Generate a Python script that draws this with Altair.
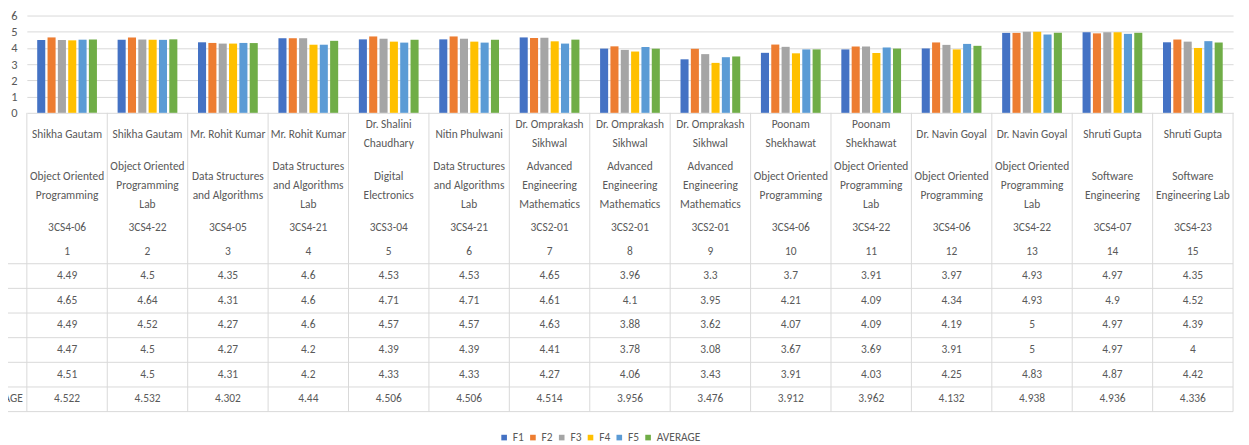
import altair as alt
import pandas as pd

# ---------------- data ----------------
numbers = ["1", "2", "3", "4", "5", "6", "7", "8", "9", "10", "11", "12", "13", "14", "15"]
teachers = [
    "Shikha Gautam", "Shikha Gautam", "Mr. Rohit Kumar", "Mr. Rohit Kumar",
    "Dr. Shalini\nChaudhary", "Nitin Phulwani", "Dr. Omprakash\nSikhwal",
    "Dr. Omprakash\nSikhwal", "Dr. Omprakash\nSikhwal", "Poonam\nShekhawat",
    "Poonam\nShekhawat", "Dr. Navin Goyal", "Dr. Navin Goyal", "Shruti Gupta", "Shruti Gupta",
]
subjects = [
    "Object Oriented\nProgramming", "Object Oriented\nProgramming\nLab",
    "Data Structures\nand Algorithms", "Data Structures\nand Algorithms\nLab",
    "Digital\nElectronics", "Data Structures\nand Algorithms\nLab",
    "Advanced\nEngineering\nMathematics", "Advanced\nEngineering\nMathematics",
    "Advanced\nEngineering\nMathematics", "Object Oriented\nProgramming",
    "Object Oriented\nProgramming\nLab", "Object Oriented\nProgramming",
    "Object Oriented\nProgramming\nLab", "Software\nEngineering", "Software\nEngineering Lab",
]
codes = ["3CS4-06", "3CS4-22", "3CS4-05", "3CS4-21", "3CS3-04", "3CS4-21", "3CS2-01", "3CS2-01",
         "3CS2-01", "3CS4-06", "3CS4-22", "3CS4-06", "3CS4-22", "3CS4-07", "3CS4-23"]

series = ["F1", "F2", "F3", "F4", "F5", "AVERAGE"]
f1 = [4.49, 4.5, 4.35, 4.6, 4.53, 4.53, 4.65, 3.96, 3.3, 3.7, 3.91, 3.97, 4.93, 4.97, 4.35]
f2 = [4.65, 4.64, 4.31, 4.6, 4.71, 4.71, 4.61, 4.1, 3.95, 4.21, 4.09, 4.34, 4.93, 4.9, 4.52]
f3 = [4.49, 4.52, 4.27, 4.6, 4.57, 4.57, 4.63, 3.88, 3.62, 4.07, 4.09, 4.19, 5, 4.97, 4.39]
f4 = [4.47, 4.5, 4.27, 4.2, 4.39, 4.39, 4.41, 3.78, 3.08, 3.67, 3.69, 3.91, 5, 4.97, 4]
f5 = [4.51, 4.5, 4.31, 4.2, 4.33, 4.33, 4.27, 4.06, 3.43, 3.91, 4.03, 4.25, 4.83, 4.87, 4.42]
average = [4.522, 4.532, 4.302, 4.44, 4.506, 4.506, 4.514, 3.956, 3.476, 3.912, 3.962, 4.132,
           4.938, 4.936, 4.336]
colors = ["#4472C4", "#ED7D31", "#A5A5A5", "#FFC000", "#5B9BD5", "#70AD47"]

# ---------------- layout constants ----------------
FONT = "Carlito, Lato, sans-serif"
FS = 11.5
TXT = "#595959"
GRID = "#d9d9d9"
W, H = 1215, 399
BAR_H = 98                # pixel height of bar area
TABLE_H = H - BAR_H       # 301
LINE_H = 19
NAME_C, SUBJ_C, CODE_C, NUM_C = 22, 74, 116, 140
ROW0, ROW_H = 152, 24.83

# ---------------- tables ----------------
all_vals = [f1, f2, f3, f4, f5, average]
bar_rows, cell_rows = [], []
for s_i, (s, vals) in enumerate(zip(series, all_vals)):
    for c, v in zip(numbers, vals):
        bar_rows.append({"cat": c, "series": s, "value": v})
        cell_rows.append({"cat": c, "text": f"{v:g}", "ty": ROW0 + ROW_H * s_i + ROW_H / 2})
bars_df = pd.DataFrame(bar_rows)
cells_df = pd.DataFrame(cell_rows)

head_rows = []
for c, t, sub, code in zip(numbers, teachers, subjects, codes):
    for block, center in ((t, NAME_C), (sub, SUBJ_C)):
        lines = block.split("\n")
        n = len(lines)
        for k, ln in enumerate(lines):
            head_rows.append({"cat": c, "text": ln, "ty": center + (k - (n - 1) / 2) * LINE_H})
    head_rows.append({"cat": c, "text": code, "ty": CODE_C})
    head_rows.append({"cat": c, "text": c, "ty": NUM_C})
head_df = pd.DataFrame(head_rows)

# row-label column of the data table: it lies left of the visible area, only the
# end of the widest label ("AVERAGE") shows in the picture
rowlab_df = pd.DataFrame({"text": series[-1:], "ty": [ROW0 + ROW_H * 5 + ROW_H / 2]})
hline_df = pd.DataFrame({"ty": [ROW0 + ROW_H * i for i in range(7)]})
vline_df = pd.DataFrame({"cat": numbers, "y0": 0, "y1": TABLE_H})
vlast_df = pd.DataFrame({"cat": [numbers[-1]], "y0": [0], "y1": [TABLE_H]})

xscale = alt.Scale(domain=numbers, paddingInner=0, paddingOuter=0)
tscale = alt.Scale(domain=[0, TABLE_H], range=[BAR_H, H])

bars = alt.Chart(bars_df).mark_bar().encode(
    x=alt.X("cat:N", scale=xscale, axis=None, sort=numbers),
    xOffset=alt.XOffset("series:N", scale=alt.Scale(domain=series, paddingInner=0.22, paddingOuter=1.0)),
    y=alt.Y("value:Q", scale=alt.Scale(domain=[0, 6], range=[BAR_H, 0]),
            axis=alt.Axis(values=[0, 1, 2, 3, 4, 5, 6], title=None, grid=True, gridColor=GRID,
                          domain=False, ticks=False, tickSize=0, labelFont=FONT, labelFontSize=12.5,
                          labelColor=TXT, labelPadding=10)),
    color=alt.Color("series:N", scale=alt.Scale(domain=series, range=colors),
                    legend=alt.Legend(orient="none", legendX=475, legendY=419, direction="horizontal",
                                      title=None, symbolType="square", symbolSize=32,
                                      symbolStrokeWidth=0, labelFont=FONT, labelFontSize=FS,
                                      labelColor=TXT, labelOffset=3, columnPadding=3)),
)

hlines = alt.Chart(hline_df).mark_rule(color=GRID, strokeWidth=1).encode(
    y=alt.Y("ty:Q", scale=tscale, axis=None),
    x=alt.value(-25), x2=alt.value(W),
)
vlines = alt.Chart(vline_df).mark_rule(color=GRID, strokeWidth=1).encode(
    x=alt.X("cat:N", scale=xscale, axis=None, bandPosition=0),
    y=alt.Y("y0:Q", scale=tscale, axis=None), y2="y1:Q",
)
vlast = alt.Chart(vlast_df).mark_rule(color=GRID, strokeWidth=1).encode(
    x=alt.X("cat:N", scale=xscale, axis=None, bandPosition=1),
    y=alt.Y("y0:Q", scale=tscale, axis=None), y2="y1:Q",
)
head = alt.Chart(head_df).mark_text(font=FONT, fontSize=FS, color=TXT, baseline="middle").encode(
    x=alt.X("cat:N", scale=xscale, axis=None),
    y=alt.Y("ty:Q", scale=tscale, axis=None),
    text="text:N",
)
cells = alt.Chart(cells_df).mark_text(font=FONT, fontSize=FS, color=TXT, baseline="middle").encode(
    x=alt.X("cat:N", scale=xscale, axis=None),
    y=alt.Y("ty:Q", scale=tscale, axis=None),
    text="text:N",
)
rowlabs = alt.Chart(rowlab_df).mark_text(font=FONT, fontSize=FS, color=TXT, baseline="middle").encode(
    x=alt.value(-26),
    y=alt.Y("ty:Q", scale=tscale, axis=None),
    text="text:N",
)

table = alt.layer(hlines, vlines, vlast, head, cells, rowlabs)

chart = alt.layer(bars, table).resolve_scale(y="independent").properties(
    width=W, height=H,
    autosize=alt.AutoSizeParams(type="none"),
    padding={"left": 19, "top": 6, "right": 8, "bottom": 30},
    background="white",
).configure_view(stroke=None)

chart.save("out.html", embed_options={"renderer": "svg", "actions": False})
